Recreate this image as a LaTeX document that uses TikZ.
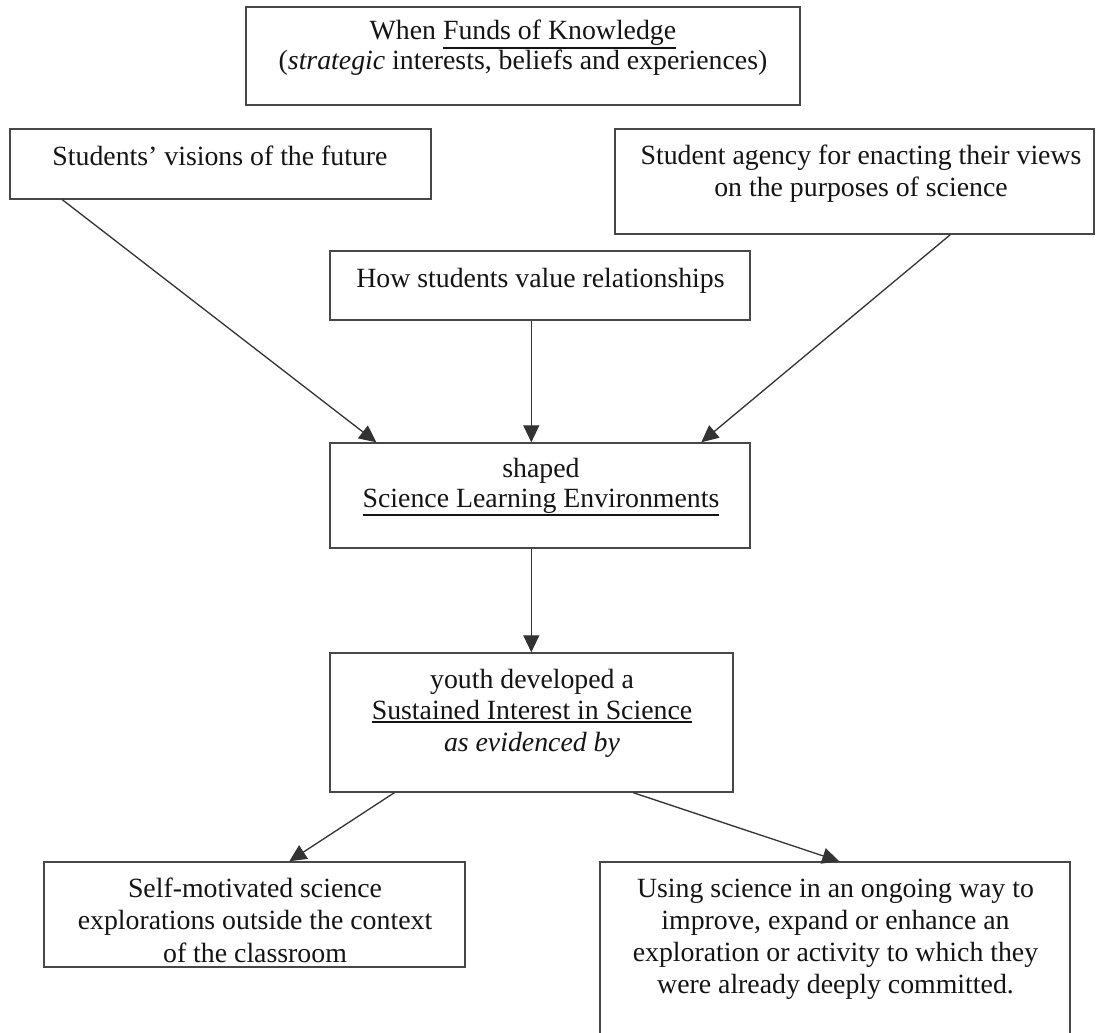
\documentclass[tikz,border=0pt]{standalone}
\usepackage{fontspec}
\setmainfont{Liberation Serif}
\usetikzlibrary{arrows.meta}
\newcommand\uline[1]{\setbox0\hbox{#1}\leavevmode\rlap{\rule[-\dimexpr\dp0+3.2pt\relax]{\wd0}{2pt}}\box0}
\begin{document}
\begin{tikzpicture}[x=1pt,y=-1pt,
  box/.style={draw=black!72, line width=1.4pt, inner sep=0pt, rectangle},
  lbl/.style={anchor=base, inner sep=0pt, align=center, text=black!92},
  conn/.style={draw=black!80, line width=1.3pt, -{Triangle[length=17pt,width=16pt]}}]
\clip (0,0) rectangle (1096,1033);
\fill[white] (0,0) rectangle (1096,1033);
% boxes
\node[box, minimum width=554pt, minimum height=98pt] (b1) at (523,56) {};
\node[box, minimum width=421pt, minimum height=70pt] (b2) at (220.5,164) {};
\node[box, minimum width=479pt, minimum height=105pt] (b3) at (854.5,181.5) {};
\node[box, minimum width=420pt, minimum height=69pt] (b4) at (540,285.5) {};
\node[box, minimum width=420pt, minimum height=105pt] (b5) at (540,495.5) {};
\node[box, minimum width=403pt, minimum height=139pt] (b6) at (531.5,722.5) {};
\node[box, minimum width=421pt, minimum height=105pt] (b7) at (254.5,914.5) {};
\node[box, minimum width=470pt, minimum height=190pt] (b8) at (835,957) {};
% texts (anchored at the baseline of the last line)
\node[lbl, font=\fontsize{27.8}{30}\selectfont] (t1) at (523,70) {When \uline{Funds of Knowledge}\\(\textit{strategic} interests, beliefs and experiences)};
\node[lbl, font=\fontsize{27.8}{32}\selectfont] (t2) at (220,165) {Students’ visions of the future};
\node[lbl, font=\fontsize{27.8}{32}\selectfont] (t3) at (861,196) {Student agency for enacting their views\\on the purposes of science};
\node[lbl, font=\fontsize{27.8}{32}\selectfont] (t4) at (540.5,287) {How students value relationships};
\node[lbl, font=\fontsize{27.8}{30}\selectfont] (t5) at (541,507) {shaped\\\uline{Science Learning Environments}};
\node[lbl, font=\fontsize{27.8}{31.5}\selectfont] (t6) at (532,751) {youth developed a\\\uline{Sustained Interest in Science}\\\textit{as evidenced by}};
\node[lbl, font=\fontsize{27.8}{32.5}\selectfont] (t7) at (255,962) {Self-motivated science\\explorations outside the context\\of the classroom};
\node[lbl, font=\fontsize{27.8}{32}\selectfont] (t8) at (835.5,993) {Using science in an ongoing way to\\improve, expand or enhance an\\exploration or activity to which they\\were already deeply committed.};
% connectors
\draw[conn] ([xshift=53pt]b2.south west) -- ([xshift=47pt]b5.north west);
\draw[conn] ([xshift=336pt]b3.south west) -- ([xshift=372pt]b5.north west);
\draw[conn] ([xshift=202pt]b4.south west) -- ([xshift=202pt]b5.north west);
\draw[conn] ([xshift=202pt]b5.south west) -- ([xshift=202pt]b6.north west);
\draw[conn] ([xshift=65pt]b6.south west) -- ([xshift=246pt]b7.north west);
\draw[conn] ([xshift=304pt]b6.south west) -- ([xshift=240pt]b8.north west);
\end{tikzpicture}
\end{document}
